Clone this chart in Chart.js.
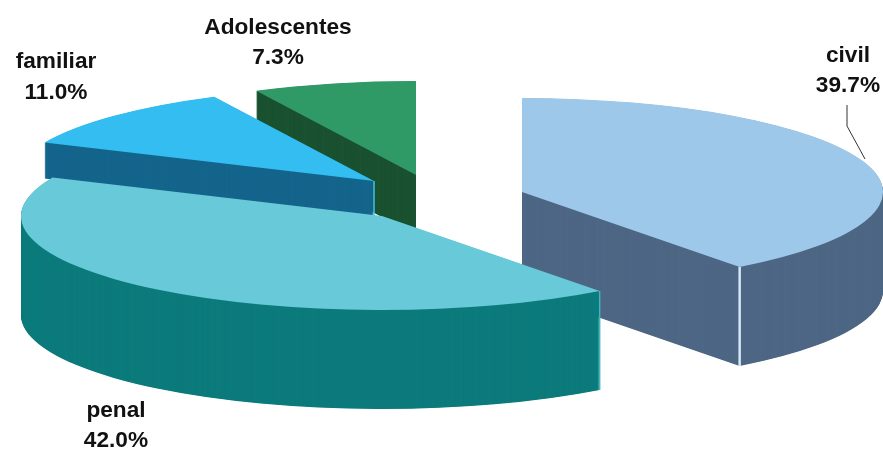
<!DOCTYPE html>
<html lang="es">
  <head>
    <title>Asuntos por materia</title>
    <meta charset="UTF-8" />
    <style>
      html, body { margin: 0; background: #fff; overflow: hidden; }
      canvas { display: block; }
    </style>
  </head>
  <body>
    <canvas id="myPieChart" width="883" height="449"></canvas>
    <script src="https://cdn.jsdelivr.net/npm/chart.js@4"></script>
    <script>
      var categories = ["civil", "penal", "familiar", "Adolescentes"];
      var values = [39.7, 42.0, 11.0, 7.3];

      var topColors = ["#9dc8ea", "#68c9d9", "#33bdf0", "#2f9a66"];
      var sideColors = ["#4e6785", "#0d7b7c", "#15658c", "#1b5231"];

      // where each wedge's point sits on the page, and how tall it is
      var apexX = [522, 382, 374, 416];
      var apexY = [192, 216, 181, 175];
      var depth = [99, 99, 36, 60];
      var radiusX = 361;
      var radiusY = 94;

      // back to front
      var drawOrder = [0, 3, 2, 1];

      // label centres: [x, first line y, second line y]
      var labelPos = [
        [848, 56, 86],
        [116, 411, 441],
        [56, 62, 93],
        [278, 28, 58],
      ];

      function arcOptions(color) {
        return {
          backgroundColor: color,
          borderColor: color,
          borderWidth: 0,
          borderAlign: "center",
          borderRadius: 0,
          borderDash: [],
          borderDashOffset: 0,
          borderJoinStyle: "round",
          circular: true,
          offset: 0,
          spacing: 0,
        };
      }

      function drawWedge(ctx, arc, i, drop, color) {
        var scaled = Object.create(arc);
        scaled.options = arcOptions(color);
        ctx.save();
        ctx.translate(apexX[i], apexY[i] + drop);
        ctx.scale(radiusX / arc.outerRadius, radiusY / arc.outerRadius);
        ctx.translate(-arc.x, -arc.y);
        scaled.draw(ctx);
        ctx.restore();
      }

      // thin light line down a corner of the wedge, angle null = at the point
      function drawEdge(ctx, i, angle, color, width) {
        var x = apexX[i];
        var y = apexY[i];
        if (angle !== null) {
          x += radiusX * Math.cos(angle);
          y += radiusY * Math.sin(angle);
        }
        ctx.strokeStyle = color;
        ctx.lineWidth = width;
        ctx.beginPath();
        ctx.moveTo(x, y);
        ctx.lineTo(x, y + depth[i]);
        ctx.stroke();
      }

      var explodedPie = {
        id: "explodedPie",
        beforeDatasetsDraw: function (chart) {
          var ctx = chart.ctx;
          var arcs = chart.getDatasetMeta(0).data;
          drawOrder.forEach(function (i) {
            for (var d = depth[i]; d > 0; d -= 0.5) {
              drawWedge(ctx, arcs[i], i, d, sideColors[i]);
            }
            if (i === 0) drawEdge(ctx, 0, arcs[0].endAngle, "#d5e6f5", 2.5);
            if (i === 1) drawEdge(ctx, 1, arcs[1].startAngle, "#3fb5bc", 1.5);
            if (i === 2) drawEdge(ctx, 2, null, "#45c4ee", 1.5);
            drawWedge(ctx, arcs[i], i, 0, topColors[i]);
          });
          return false;
        },
        afterDraw: function (chart) {
          var ctx = chart.ctx;
          ctx.save();
          // leader line of civil
          ctx.strokeStyle = "#333";
          ctx.lineWidth = 1;
          ctx.beginPath();
          ctx.moveTo(847, 105);
          ctx.lineTo(847, 126);
          ctx.lineTo(865, 159);
          ctx.stroke();

          ctx.fillStyle = "#111";
          ctx.font = "bold 22px 'Liberation Sans'";
          ctx.textAlign = "center";
          ctx.textBaseline = "middle";
          categories.forEach(function (name, i) {
            var pos = labelPos[i];
            var lines = [name, values[i].toFixed(1) + "%"];
            lines.forEach(function (text, n) {
              ctx.save();
              ctx.translate(pos[0], pos[n + 1]);
              ctx.scale(1.03, 1);
              ctx.fillText(text, 0, 0);
              ctx.restore();
            });
          });
          ctx.restore();
        },
      };

      new Chart(document.getElementById("myPieChart"), {
        type: "pie",
        data: {
          labels: categories,
          datasets: [
            {
              data: values,
              backgroundColor: topColors,
              borderWidth: 0,
            },
          ],
        },
        options: {
          responsive: false,
          animation: false,
          plugins: {
            legend: { display: false },
            tooltip: { enabled: false },
          },
        },
        plugins: [explodedPie],
      });
    </script>
  </body>
</html>
